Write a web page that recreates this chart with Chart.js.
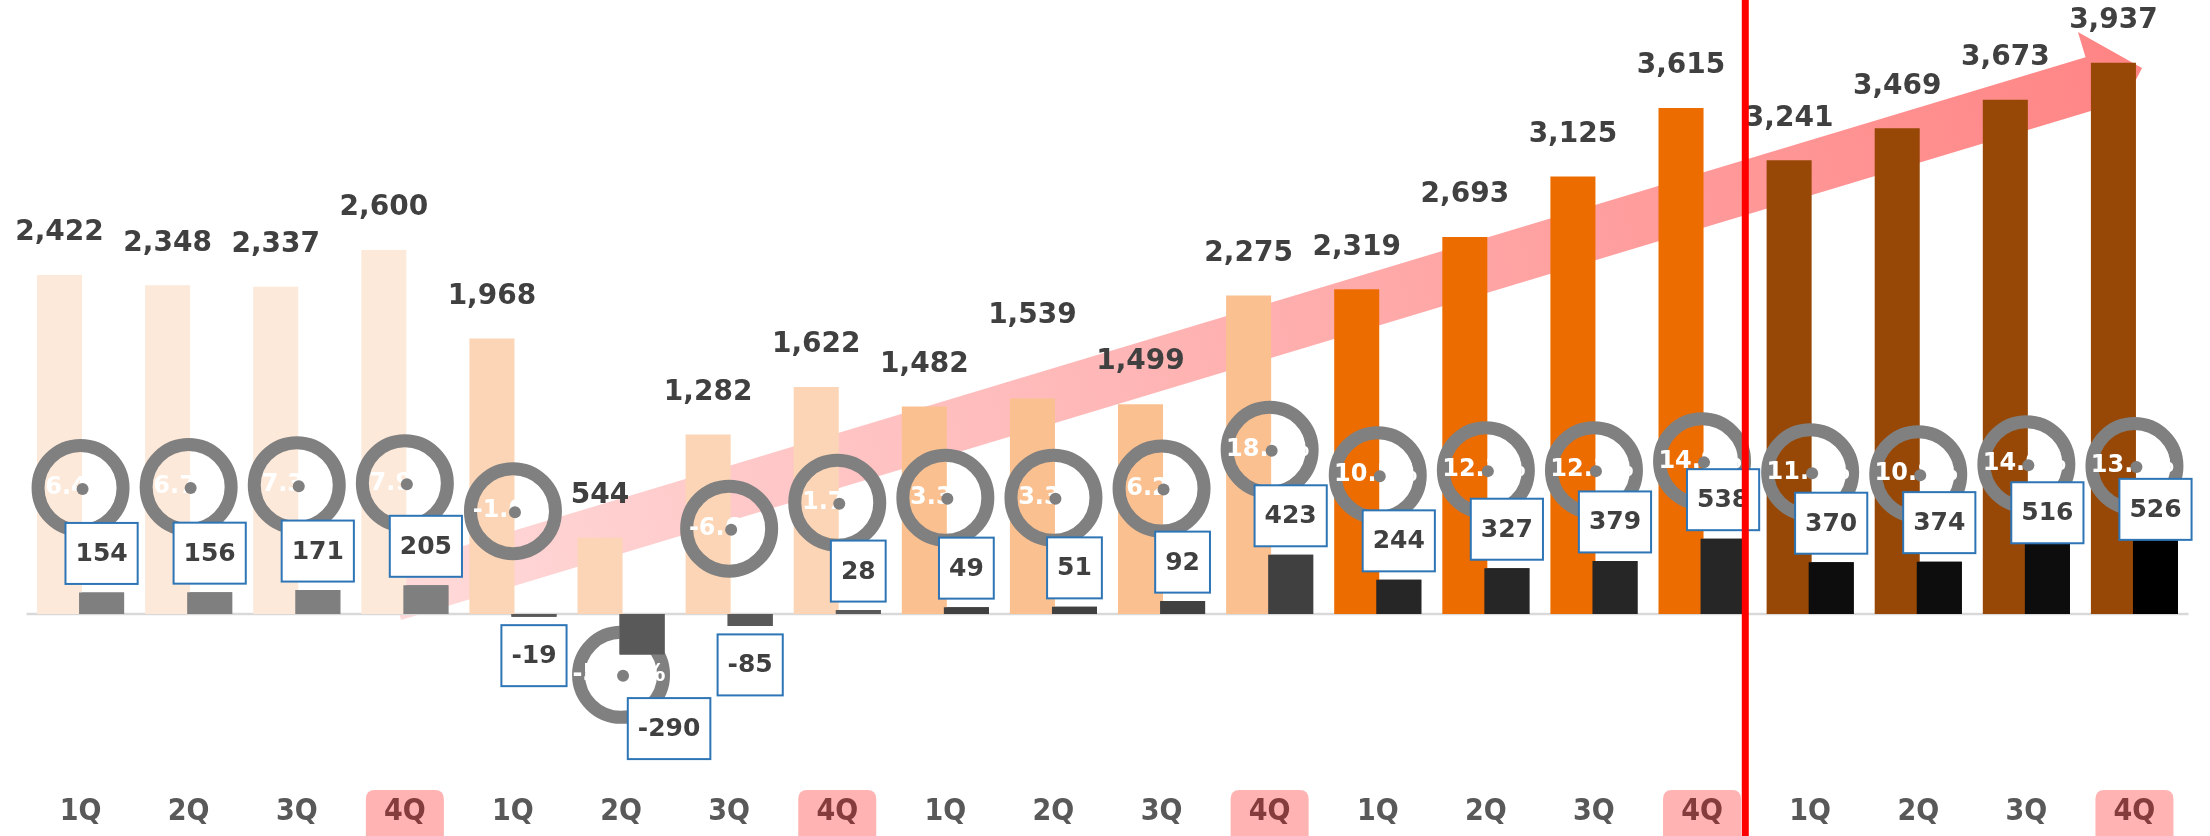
<!DOCTYPE html>
<html>
<head>
<meta charset="utf-8">
<style>
html,body{margin:0;padding:0;background:#ffffff;}
canvas{display:block;}
</style>
<script src="https://cdn.jsdelivr.net/npm/chart.js@4.4.1/dist/chart.umd.min.js"></script>
</head>
<body>
<canvas id="c" width="2210" height="836"></canvas>
<script>
// ---- data ----
const quarters = ["1Q","2Q","3Q","4Q","1Q","2Q","3Q","4Q","1Q","2Q","3Q","4Q","1Q","2Q","3Q","4Q","1Q","2Q","3Q","4Q"];
const revenue = [2422,2348,2337,2600,1968,544,1282,1622,1482,1539,1499,2275,2319,2693,3125,3615,3241,3469,3673,3937];
const operatingProfit = [154,156,171,205,-19,-290,-85,28,49,51,92,423,244,327,379,538,370,374,516,526];
const marginPct = [6.4,6.7,7.3,7.9,-1.0,-53.3,-6.6,1.7,3.3,3.3,6.2,18.6,10.5,12.1,12.1,14.9,11.4,10.8,14.0,13.4];

// ---- styles ----
const revenueYearColors = ["#FDE9D9","#FBD5B5","#FAC090","#EC6C00","#974806"];
const profitBarColors = ["#7F7F7F","#7F7F7F","#7F7F7F","#7F7F7F",
  "#595959","#595959","#595959","#595959",
  "#404040","#404040","#404040","#404040",
  "#262626","#262626","#262626","#262626",
  "#0D0D0D","#0D0D0D","#0D0D0D","#000000"];
const LABEL_FONT = "'DejaVu Sans', 'Verdana', sans-serif";

function roundRectPath(ctx, x, y, w, h, r){
  ctx.beginPath();
  ctx.moveTo(x + r, y);
  ctx.lineTo(x + w - r, y);
  ctx.quadraticCurveTo(x + w, y, x + w, y + r);
  ctx.lineTo(x + w, y + h - r);
  ctx.quadraticCurveTo(x + w, y + h, x + w - r, y + h);
  ctx.lineTo(x + r, y + h);
  ctx.quadraticCurveTo(x, y + h, x, y + h - r);
  ctx.lineTo(x, y + r);
  ctx.quadraticCurveTo(x, y, x + r, y);
  ctx.closePath();
}

const decor = {
  id: 'decor',
  beforeDraw(chart, args, opts){
    const {ctx, scales:{x}, chartArea} = chart;
    ctx.save();
    ctx.fillStyle = '#FFB3B3';
    quarters.forEach((q, i) => {
      if (i % 4 !== 3) return;
      const cx = x.getPixelForTick(i);
      roundRectPath(ctx, cx - 39, chartArea.bottom + 14, 78, 66, 9);
      ctx.fill();
    });
    ctx.restore();
  },
  beforeDatasetsDraw(chart, args, opts){
    const {ctx, scales:{x, y}, chartArea} = chart;
    const a = opts.arrow;
    const tx = x.getPixelForValue(a.fromIndex), ty = y.getPixelForValue(a.fromValue);
    const hx = x.getPixelForValue(a.toIndex), hy = y.getPixelForValue(a.toValue);
    const len = Math.hypot(hx - tx, hy - ty);
    const ux = (hx - tx) / len, uy = (hy - ty) / len;
    const nx = -uy, ny = ux;
    const bx = hx - ux * a.headLength, by = hy - uy * a.headLength;
    const sw = a.shaftWidth / 2, hw = a.headWidth / 2;
    ctx.save();
    const g = ctx.createLinearGradient(tx, ty, hx, hy);
    g.addColorStop(0, '#FFDADA');
    g.addColorStop(1, '#FF8484');
    ctx.fillStyle = g;
    ctx.beginPath();
    ctx.moveTo(tx + nx * sw, ty + ny * sw);
    ctx.lineTo(bx + nx * sw, by + ny * sw);
    ctx.lineTo(bx + nx * hw, by + ny * hw);
    ctx.lineTo(hx, hy);
    ctx.lineTo(bx - nx * hw, by - ny * hw);
    ctx.lineTo(bx - nx * sw, by - ny * sw);
    ctx.lineTo(tx - nx * sw, ty - ny * sw);
    ctx.closePath();
    ctx.fill();
    // zero baseline
    const y0 = y.getPixelForValue(0);
    ctx.strokeStyle = '#D9D9D9';
    ctx.lineWidth = 2.5;
    ctx.beginPath();
    ctx.moveTo(chartArea.left, y0);
    ctx.lineTo(chartArea.right, y0);
    ctx.stroke();
    ctx.restore();
  },
  afterDatasetsDraw(chart, args, opts){
    const {ctx} = chart;
    const revMeta = chart.getDatasetMeta(0);
    const opMeta = chart.getDatasetMeta(1);
    const ringMeta = chart.getDatasetMeta(2);
    ctx.save();
    // profit bars on top of the rings
    opMeta.data.forEach(el => el.draw(ctx));
    // ring texts + centre dots
    ringMeta.data.forEach((pt, i) => {
      ctx.font = "bold 24px " + LABEL_FONT;
      ctx.fillStyle = '#FFFFFF';
      ctx.textAlign = 'center';
      ctx.textBaseline = 'middle';
      ctx.fillText(marginPct[i].toFixed(1) + '%', pt.x - 2, pt.y);
      ctx.fillStyle = '#7F7F7F';
      ctx.beginPath();
      ctx.arc(pt.x + 2, pt.y + 1, 6, 0, Math.PI * 2);
      ctx.fill();
    });
    // revenue labels
    ctx.font = "bold 28px " + LABEL_FONT;
    ctx.fillStyle = '#404040';
    ctx.textAlign = 'center';
    ctx.textBaseline = 'middle';
    revMeta.data.forEach((bar, i) => {
      const lift = opts.revenueLift[i] !== undefined ? opts.revenueLift[i] : 42;
      ctx.fillText(revenue[i].toLocaleString('en-US'), bar.x, bar.y - lift);
    });
    // profit boxes
    ctx.font = "bold 25px " + LABEL_FONT;
    opMeta.data.forEach((bar, i) => {
      const v = operatingProfit[i];
      const s = opts.boxShift[i] || {};
      const txt = String(v);
      const w = ctx.measureText(txt).width + 20;
      const h = 61;
      const cx = bar.x + (s.dx || 0);
      const cy = (v >= 0 ? bar.y - 39 : bar.y + 39) + (s.dy || 0);
      ctx.fillStyle = '#FFFFFF';
      ctx.fillRect(cx - w / 2, cy - h / 2, w, h);
      ctx.strokeStyle = '#2E75B6';
      ctx.lineWidth = 2;
      ctx.strokeRect(cx - w / 2, cy - h / 2, w, h);
      ctx.fillStyle = '#404040';
      ctx.fillText(txt, cx, cy + 1);
    });
    ctx.restore();
  },
  afterDraw(chart, args, opts){
    const {ctx, scales:{x}} = chart;
    const px = x.getPixelForValue(opts.dividerIndex);
    ctx.save();
    ctx.fillStyle = '#FF0000';
    ctx.fillRect(px - 3.5, 0, 7, chart.height);
    ctx.restore();
  }
};

new Chart(document.getElementById('c'), {
  data: {
    labels: quarters,
    datasets: [
      { type: 'bar', label: 'Revenue', data: revenue,
        backgroundColor: revenue.map((_, i) => revenueYearColors[Math.floor(i / 4)]),
        categoryPercentage: 0.778, barPercentage: 1.071, order: 1, yAxisID: 'y' },
      { type: 'bar', label: 'Operating profit', data: operatingProfit,
        backgroundColor: profitBarColors,
        categoryPercentage: 0.778, barPercentage: 1.071, order: 2, yAxisID: 'y' },
      { type: 'line', label: 'Margin', data: marginPct, yAxisID: 'y2', order: 0,
        showLine: false, pointRadius: 42.5, pointHoverRadius: 42.5,
        pointBorderWidth: 13, pointHoverBorderWidth: 13,
        pointBorderColor: '#808080', pointBackgroundColor: 'rgba(0,0,0,0)' }
    ]
  },
  options: {
    responsive: false,
    animation: false,
    events: [],
    layout: { autoPadding: false, padding: { left: 26.5, right: 21.5, top: 0, bottom: 0 } },
    scales: {
      x: {
        offset: true,
        grid: { display: false, drawTicks: false },
        border: { display: false },
        ticks: {
          autoSkip: false, maxRotation: 0, minRotation: 0, padding: 18,
          font: { family: "'DejaVu Sans Condensed', 'DejaVu Sans', sans-serif", size: 30, weight: 'bold' },
          color: c => (c.index % 4 === 3 ? '#843C3C' : '#595959')
        },
        afterFit: s => { s.height = 60; }
      },
      y: { display: false, min: -1157.14, max: 4385.71 },
      y2: { display: false, position: 'right', min: -85.62, max: 162.30 }
    },
    plugins: {
      legend: { display: false },
      tooltip: { enabled: false },
      decor: {
        arrow: { fromIndex: 2.894, fromValue: 138, toIndex: 19.07, toValue: 3900, shaftWidth: 53, headWidth: 106, headLength: 51 },
        revenueLift: { 9: 83 },
        boxShift: { 5: { dx: 27, dy: 35 }, 18: { dy: 10 }, 19: { dy: 8 } },
        dividerIndex: 15.4
      }
    }
  },
  plugins: [decor]
});
</script>
</body>
</html>
